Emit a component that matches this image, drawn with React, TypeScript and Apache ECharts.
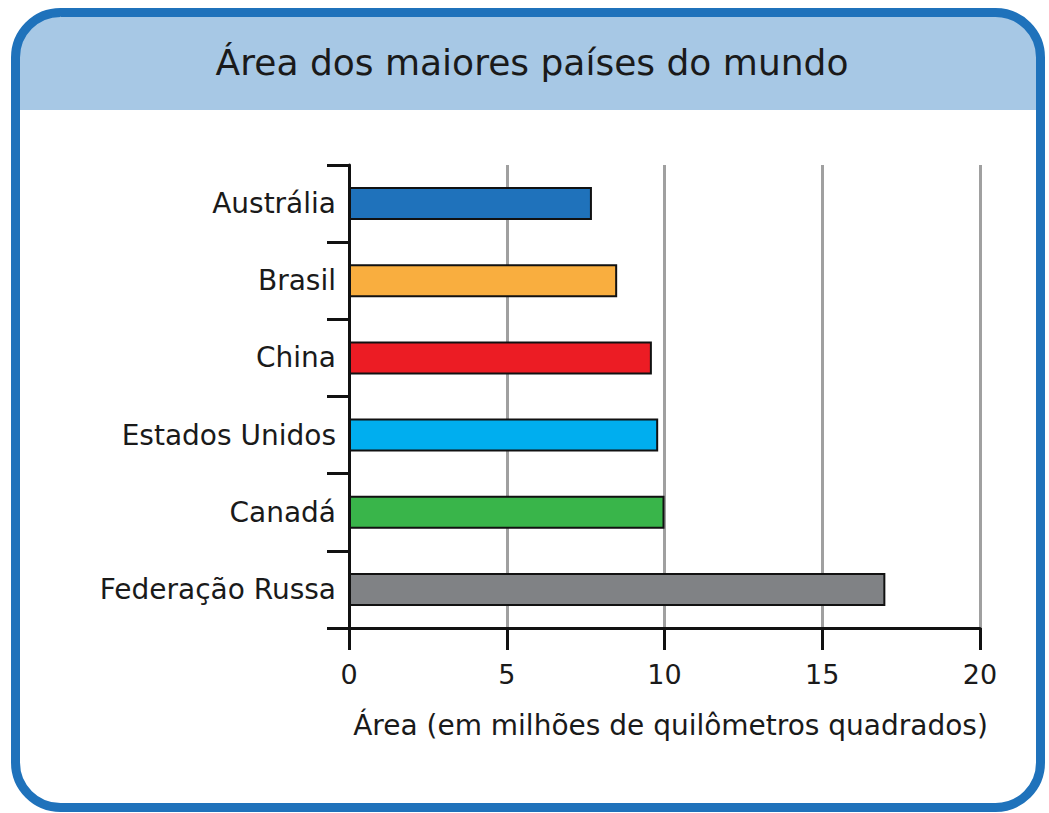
import React, { useEffect, useRef } from "react";
import * as echarts from "echarts";

const countries = ["Austrália", "Brasil", "China", "Estados Unidos", "Canadá", "Federação Russa"];
const areas = [7.7, 8.5, 9.6, 9.8, 10.0, 17.0];
const barColors = ["#1f72bb", "#f9ae3f", "#ec1c24", "#00aeef", "#39b54a", "#808285"];
const xTicks = [0, 5, 10, 15, 20];
const titleText = "Área dos maiores países do mundo";
const axisTitle = "Área (em milhões de quilômetros quadrados)";

const FONT = "'DejaVu Sans', Verdana, sans-serif";

export default function App() {
  const ref = useRef<HTMLDivElement>(null);
  useEffect(() => {
    if (!ref.current) return;
    const chart = echarts.init(ref.current, null, { renderer: "svg" });
    chart.setOption({
      animation: false,
      backgroundColor: "#ffffff",
      graphic: [
        {
          type: "rect",
          z: -10,
          shape: { x: 15, y: 12, width: 1026, height: 98, r: [42, 42, 0, 0] },
          style: { fill: "#a7c8e5" },
        },
        {
          type: "rect",
          z: 100,
          shape: { x: 15.5, y: 12.5, width: 1025, height: 795, r: 45 },
          style: { fill: "none", stroke: "#1f72bb", lineWidth: 9 },
        },
        {
          type: "text",
          z: 101,
          x: 532,
          y: 62,
          style: {
            text: titleText,
            font: `36px ${FONT}`,
            fill: "#1a1a1a",
            align: "center",
            verticalAlign: "middle",
          },
        },
      ],
      grid: { left: 349, right: 69, top: 165, bottom: 185, containLabel: false },
      xAxis: {
        type: "value",
        min: 0,
        max: 20,
        interval: 5,
        name: axisTitle,
        nameLocation: "middle",
        nameGap: 83,
        nameTextStyle: { fontFamily: FONT, fontSize: 28, color: "#1a1a1a", padding: [0, 0, 0, 12] },
        axisLine: { show: true, lineStyle: { color: "#111", width: 3 } },
        axisTick: { show: true, length: 22, lineStyle: { color: "#111", width: 3 } },
        axisLabel: {
          margin: 33,
          fontFamily: FONT,
          fontSize: 27,
          color: "#1a1a1a",
          formatter: (v: number) => (xTicks.includes(v) ? String(v) : ""),
        },
        splitLine: { show: true, lineStyle: { color: "#a0a0a0", width: 3 } },
      },
      yAxis: {
        type: "category",
        data: countries,
        inverse: true,
        axisLine: { show: true, lineStyle: { color: "#111", width: 3 } },
        axisTick: { show: true, length: 22, alignWithLabel: false, lineStyle: { color: "#111", width: 3 } },
        axisLabel: { margin: 13, fontFamily: FONT, fontSize: 28, color: "#1a1a1a" },
        splitLine: { show: false },
      },
      series: [
        {
          type: "bar",
          data: areas.map((v, i) => ({
            value: v,
            itemStyle: { color: barColors[i], borderColor: "#111", borderWidth: 2 },
          })),
          barWidth: 33,
          z: 3,
        },
      ],
    });
    return () => chart.dispose();
  }, []);
  return (
    <div
      ref={ref}
      style={{ position: "absolute", left: 0, top: 0, width: 1049, height: 813 }}
    />
  );
}
